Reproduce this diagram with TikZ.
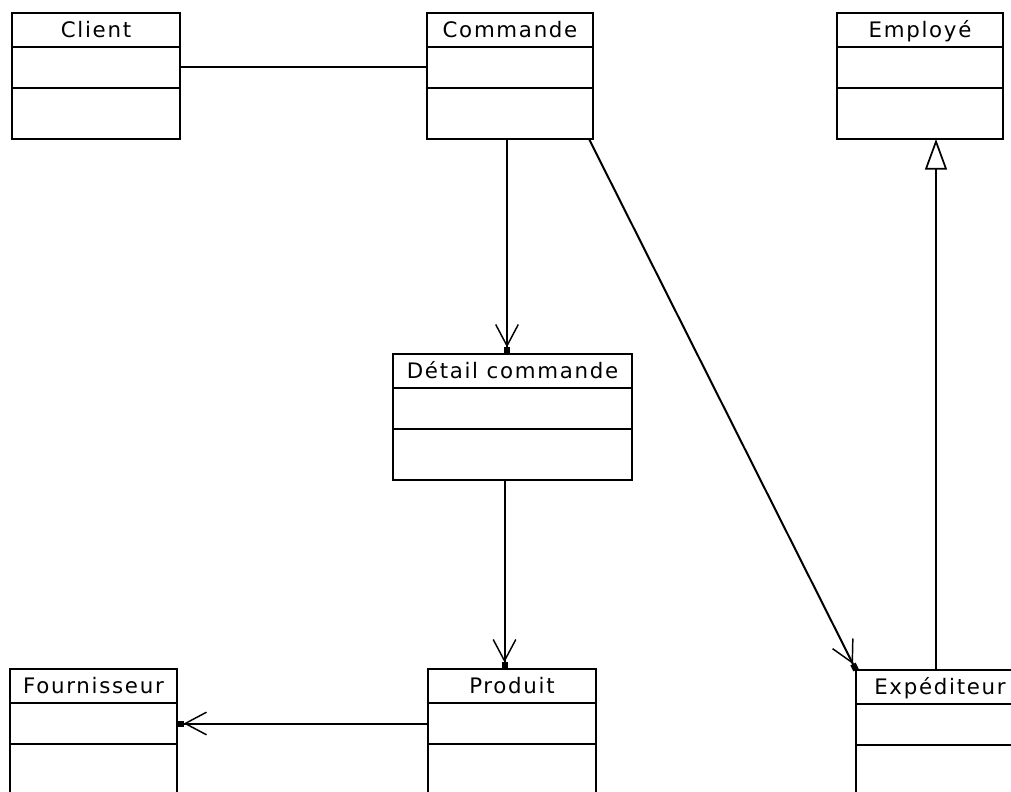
\documentclass[tikz,border=0pt]{standalone}
\usepackage{fontspec}
\setmainfont{DejaVu Sans}[LetterSpace = 8]
\usetikzlibrary{positioning}
\usetikzlibrary{calc}
\usetikzlibrary{arrows.meta}

\newcommand{\umlclass}[5]{%
	\node[clstitle, minimum width = #4*0.75pt, anchor = north west] (#1) at (#2, #3) {#5};%
	\node[clsbox, minimum width = #4*0.75pt, minimum height = 41*0.75pt, anchor = north] (#1-a) at (#1.south) {};%
	\node[clsbox, minimum width = #4*0.75pt, minimum height = 51*0.75pt, anchor = north] (#1-o) at (#1-a.south) {};%
}

\begin{document}
\begin{tikzpicture}[x = 0.75pt, y = -0.75pt,
	clsbox/.style = {draw, line width = 1.4pt, inner sep = 0pt, outer sep = 0pt},
	clstitle/.style = {clsbox, minimum height = 34*0.75pt, text height = 11.6pt, text depth = 0pt, font = \fontsize{16}{18}\selectfont},
	assoc/.style = {line width = 1.5pt},
	crowfoot/.style = {assoc, -{Straight Barb[length = 16pt, width = 17pt, line width = 1.1pt] Square[length = 5pt, width = 4.5pt]}},
	inherit/.style = {assoc, -{Triangle[open, length = 23pt, width = 16.5pt, line width = 1.3pt]}}]
	\useasboundingbox (0, 0) rectangle (1011, 792);
	\clip (0, 0) rectangle (1011, 792);
	\umlclass{client}{12}{13}{168}{Client}
	\umlclass{commande}{427}{13}{166}{Commande}
	\umlclass{employe}{837}{13}{166}{Employé}
	\umlclass{detail}{393}{354}{239}{Détail commande}
	\umlclass{fournisseur}{10}{669}{167}{Fournisseur}
	\umlclass{produit}{428}{669}{168}{Produit}
	\umlclass{expediteur}{856}{670}{168}{Expéditeur}
	\draw[assoc] (client-a.east) -- (commande-a.west);
	\draw[crowfoot] ($(commande-o.south)+(-3, 0)$) -- ($(commande-o.south |- detail.north)+(-3, 0)$);
	\draw[crowfoot] ($(commande-o.south east)+(-4, 0)$) -- (expediteur.north west);
	\draw[crowfoot] ($(detail-o.south)+(-8, 0)$) -- ($(detail-o.south |- produit.north)+(-8, 0)$);
	\draw[crowfoot] (produit-a.west) -- (fournisseur-a.east);
	\draw[inherit] ($(expediteur.north)+(-4, 0)$) -- ($(expediteur.north |- employe-o.south)+(-4, 0)$);
\end{tikzpicture}
\end{document}
